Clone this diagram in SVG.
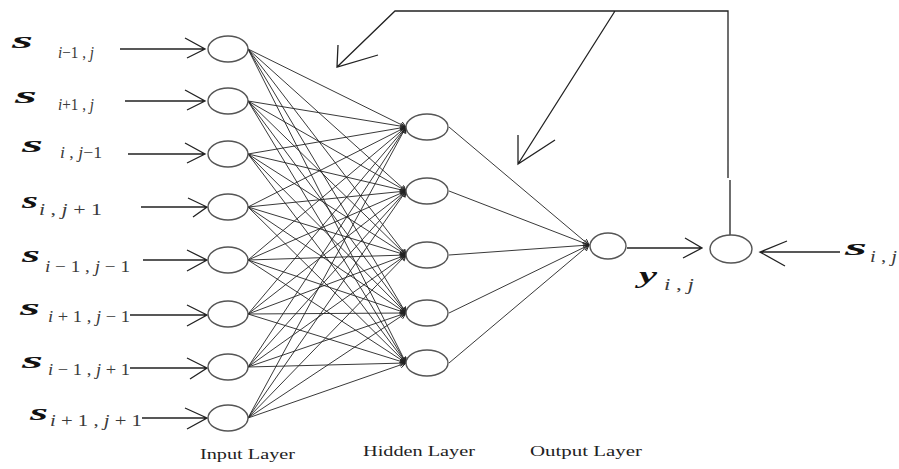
<svg xmlns="http://www.w3.org/2000/svg" width="899" height="469" viewBox="0 0 899 469">
<style>
.bg{fill:#ffffff}
.node{fill:#ffffff;stroke:#555;stroke-width:1.4}
.c{stroke:#222;stroke-width:0.9;fill:none}
.a{stroke:#222;stroke-width:1.3;fill:none}
.s{font-family:"Liberation Serif",serif;font-weight:bold;font-style:italic;font-size:24px;fill:#111}
.sub{font-family:"Liberation Serif",serif;font-size:16px;fill:#3a3a3a}
.it{font-style:italic}
.cap{font-family:"Liberation Serif",serif;font-size:15px;fill:#222}
</style>
<defs>
<marker id="tip" markerUnits="userSpaceOnUse" markerWidth="7" markerHeight="7" refX="6" refY="3" orient="auto">
<path d="M0,0 L6,3 L0,6" fill="none" stroke="#222" stroke-width="0.9"/>
</marker>
</defs>
<rect class="bg" x="0" y="0" width="899" height="469"/>
<g id="connectors">
<g id="input-hidden" marker-end="url(#tip)">
<line class="c" x1="248" y1="49" x2="406" y2="127"/><line class="c" x1="248" y1="49" x2="406" y2="191"/><line class="c" x1="248" y1="49" x2="406" y2="255"/><line class="c" x1="248" y1="49" x2="406" y2="313"/><line class="c" x1="248" y1="49" x2="406" y2="363"/>
<line class="c" x1="248" y1="101" x2="406" y2="127"/><line class="c" x1="248" y1="101" x2="406" y2="191"/><line class="c" x1="248" y1="101" x2="406" y2="255"/><line class="c" x1="248" y1="101" x2="406" y2="313"/><line class="c" x1="248" y1="101" x2="406" y2="363"/>
<line class="c" x1="248" y1="154" x2="406" y2="127"/><line class="c" x1="248" y1="154" x2="406" y2="191"/><line class="c" x1="248" y1="154" x2="406" y2="255"/><line class="c" x1="248" y1="154" x2="406" y2="313"/><line class="c" x1="248" y1="154" x2="406" y2="363"/>
<line class="c" x1="248" y1="207" x2="406" y2="127"/><line class="c" x1="248" y1="207" x2="406" y2="191"/><line class="c" x1="248" y1="207" x2="406" y2="255"/><line class="c" x1="248" y1="207" x2="406" y2="313"/><line class="c" x1="248" y1="207" x2="406" y2="363"/>
<line class="c" x1="248" y1="260" x2="406" y2="127"/><line class="c" x1="248" y1="260" x2="406" y2="191"/><line class="c" x1="248" y1="260" x2="406" y2="255"/><line class="c" x1="248" y1="260" x2="406" y2="313"/><line class="c" x1="248" y1="260" x2="406" y2="363"/>
<line class="c" x1="248" y1="314" x2="406" y2="127"/><line class="c" x1="248" y1="314" x2="406" y2="191"/><line class="c" x1="248" y1="314" x2="406" y2="255"/><line class="c" x1="248" y1="314" x2="406" y2="313"/><line class="c" x1="248" y1="314" x2="406" y2="363"/>
<line class="c" x1="248" y1="367" x2="406" y2="127"/><line class="c" x1="248" y1="367" x2="406" y2="191"/><line class="c" x1="248" y1="367" x2="406" y2="255"/><line class="c" x1="248" y1="367" x2="406" y2="313"/><line class="c" x1="248" y1="367" x2="406" y2="363"/>
<line class="c" x1="248" y1="418" x2="406" y2="127"/><line class="c" x1="248" y1="418" x2="406" y2="191"/><line class="c" x1="248" y1="418" x2="406" y2="255"/><line class="c" x1="248" y1="418" x2="406" y2="313"/><line class="c" x1="248" y1="418" x2="406" y2="363"/>
</g>
<g id="hidden-output" marker-end="url(#tip)">
<line class="c" x1="449" y1="127" x2="589" y2="245"/><line class="c" x1="449" y1="191" x2="589" y2="245"/><line class="c" x1="449" y1="255" x2="589" y2="245"/><line class="c" x1="449" y1="313" x2="589" y2="245"/><line class="c" x1="449" y1="363" x2="589" y2="245"/>
</g>
<g id="input-arrows">
<path class="a" d="M120,49 H205 M185,38 L205,49 L187,58"/>
<path class="a" d="M125,101 H205 M185,90 L205,101 L187,110"/>
<path class="a" d="M128,154 H205 M185,143 L205,154 L187,163"/>
<path class="a" d="M141,207 H207 M188,198 L207,207 L193,217"/>
<path class="a" d="M143,260 H207 M187,250 L207,260 L187,271"/>
<path class="a" d="M130,315 H207 M187,305 L207,315 L187,326"/>
<path class="a" d="M130,368 H207 M187,358 L207,368 L190,379"/>
<path class="a" d="M142,418 H207 M185,408 L207,418 L187,429"/>
</g>
<g id="output-sum">
<path class="a" d="M627,248 H702 M685,238 L702,248 L683,258"/>
</g>
<g id="target-sum">
<path class="a" d="M840,252 H760 M787,241 L760,252 L785,266"/>
</g>
<g id="feedback">
<path class="a" d="M730,236 V180 M728,178 V11 H395 L337,67 M338,45 L337,67 L378,55 M615,11 L518,164 M518,135 L518,164 L555,140"/>
</g>
</g>
<g id="input-layer">
<g id="in1"><ellipse class="node" cx="228" cy="49" rx="20" ry="13"/></g>
<g id="in2"><ellipse class="node" cx="228" cy="101" rx="20" ry="13"/></g>
<g id="in3"><ellipse class="node" cx="228" cy="154" rx="20" ry="13"/></g>
<g id="in4"><ellipse class="node" cx="228" cy="207" rx="20" ry="13"/></g>
<g id="in5"><ellipse class="node" cx="228" cy="260" rx="20" ry="13"/></g>
<g id="in6"><ellipse class="node" cx="228" cy="314" rx="20" ry="13"/></g>
<g id="in7"><ellipse class="node" cx="228" cy="367" rx="20" ry="13"/></g>
<g id="in8"><ellipse class="node" cx="228" cy="418" rx="20" ry="13"/></g>
</g>
<g id="hidden-layer">
<g id="h1"><ellipse class="node" cx="427" cy="127" rx="21" ry="13"/></g>
<g id="h2"><ellipse class="node" cx="427" cy="191" rx="21" ry="13"/></g>
<g id="h3"><ellipse class="node" cx="427" cy="255" rx="21" ry="13"/></g>
<g id="h4"><ellipse class="node" cx="427" cy="313" rx="21" ry="13"/></g>
<g id="h5"><ellipse class="node" cx="427" cy="363" rx="21" ry="13"/></g>
</g>
<g id="output-node"><ellipse class="node" cx="608" cy="246" rx="18" ry="13"/></g>
<g id="sum-node"><ellipse class="node" cx="731" cy="249" rx="21" ry="14"/></g>
<g id="labels">
<text class="s" x="12" y="48" textLength="21" lengthAdjust="spacingAndGlyphs">s</text>
<text class="sub" x="58" y="58" font-size="15" textLength="36" lengthAdjust="spacingAndGlyphs"><tspan class="it">i</tspan>−1 , <tspan class="it">j</tspan></text>
<text class="s" x="15" y="103" textLength="22" lengthAdjust="spacingAndGlyphs">s</text>
<text class="sub" x="58" y="110" font-size="15" textLength="36" lengthAdjust="spacingAndGlyphs"><tspan class="it">i</tspan>+1 , <tspan class="it">j</tspan></text>
<text class="s" x="22" y="152" textLength="21" lengthAdjust="spacingAndGlyphs">s</text>
<text class="sub" x="60" y="158" font-size="16" textLength="42" lengthAdjust="spacingAndGlyphs"><tspan class="it">i</tspan> , <tspan class="it">j</tspan>−1</text>
<text class="s" x="22" y="208" textLength="16" lengthAdjust="spacingAndGlyphs">s</text>
<text class="sub" x="39" y="215" font-size="16" textLength="63" lengthAdjust="spacingAndGlyphs"><tspan class="it">i</tspan> , <tspan class="it">j</tspan> + 1</text>
<text class="s" x="22" y="262" textLength="18" lengthAdjust="spacingAndGlyphs">s</text>
<text class="sub" x="45" y="272" font-size="16" textLength="85" lengthAdjust="spacingAndGlyphs"><tspan class="it">i</tspan> − 1 , <tspan class="it">j</tspan> − 1</text>
<text class="s" x="20" y="315" textLength="20" lengthAdjust="spacingAndGlyphs">s</text>
<text class="sub" x="48" y="322" font-size="16" textLength="82" lengthAdjust="spacingAndGlyphs"><tspan class="it">i</tspan> + 1 , <tspan class="it">j</tspan> − 1</text>
<text class="s" x="22" y="368" textLength="21" lengthAdjust="spacingAndGlyphs">s</text>
<text class="sub" x="48" y="375" font-size="16" textLength="82" lengthAdjust="spacingAndGlyphs"><tspan class="it">i</tspan> − 1 , <tspan class="it">j</tspan> + 1</text>
<text class="s" x="30" y="420" textLength="18" lengthAdjust="spacingAndGlyphs">s</text>
<text class="sub" x="50" y="426" font-size="17" textLength="92" lengthAdjust="spacingAndGlyphs"><tspan class="it">i</tspan> + 1 , <tspan class="it">j</tspan> + 1</text>
<text class="s" x="639" y="283" textLength="18" lengthAdjust="spacingAndGlyphs">y</text>
<text class="sub" x="664" y="290" font-size="16" textLength="30" lengthAdjust="spacingAndGlyphs"><tspan class="it">i</tspan> , <tspan class="it">j</tspan></text>
<text class="s" x="845" y="255" textLength="22" lengthAdjust="spacingAndGlyphs">s</text>
<text class="sub" x="870" y="262" font-size="16" textLength="27" lengthAdjust="spacingAndGlyphs"><tspan class="it">i</tspan> , <tspan class="it">j</tspan></text>
<text class="cap" x="200" y="459" textLength="95" lengthAdjust="spacingAndGlyphs">Input Layer</text>
<text class="cap" x="363" y="456" textLength="112" lengthAdjust="spacingAndGlyphs">Hidden Layer</text>
<text class="cap" x="530" y="456" textLength="112" lengthAdjust="spacingAndGlyphs">Output Layer</text>
</g>
</svg>
